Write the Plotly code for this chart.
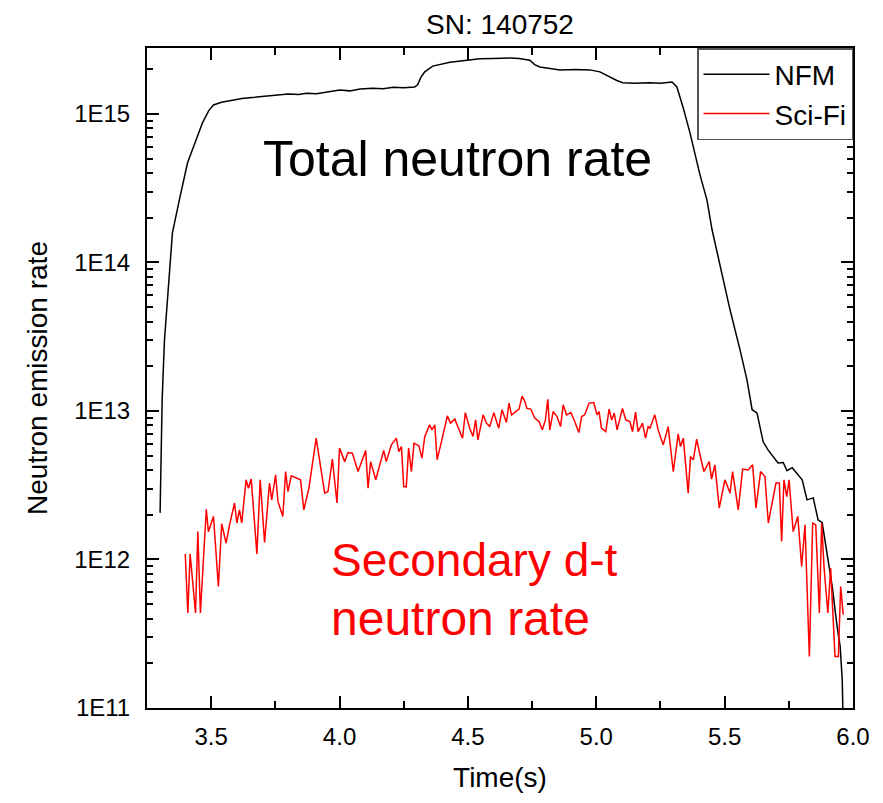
import plotly.graph_objects as go

# ---- data ----
nfm_time = [3.301, 3.309, 3.318, 3.330, 3.349, 3.376, 3.408, 3.440, 3.466, 3.490,
            3.509, 3.540, 3.583, 3.620, 3.660, 3.716, 3.760, 3.800, 3.840, 3.872,
            3.910, 3.950, 4.001, 4.040, 4.080, 4.129, 4.170, 4.210, 4.250, 4.293,
            4.304, 4.318, 4.332, 4.363, 4.400, 4.430, 4.480, 4.546, 4.600, 4.663,
            4.700, 4.741, 4.760, 4.780, 4.820, 4.858, 4.920, 4.975, 5.014, 5.053,
            5.080, 5.103, 5.150, 5.209, 5.250, 5.295, 5.314, 5.340, 5.365, 5.404,
            5.431, 5.451, 5.482, 5.521, 5.560, 5.587, 5.607, 5.626, 5.650, 5.669,
            5.708, 5.728, 5.743, 5.763, 5.802, 5.821, 5.845, 5.864, 5.880, 5.899,
            5.919, 5.938, 5.950, 5.958, 5.961]
nfm_rate = [2.06e12, 1.19e13, 3.0e13, 5.6e13, 1.58e14, 2.64e14, 4.69e14, 6.6e14, 8.7e14, 1.05e15,
            1.15e15, 1.20e15, 1.24e15, 1.27e15, 1.29e15, 1.32e15, 1.33e15, 1.36e15, 1.35e15, 1.38e15,
            1.37e15, 1.41e15, 1.45e15, 1.43e15, 1.47e15, 1.49e15, 1.48e15, 1.51e15, 1.50e15, 1.52e15,
            1.57e15, 1.78e15, 1.92e15, 2.10e15, 2.18e15, 2.23e15, 2.28e15, 2.35e15, 2.36e15, 2.38e15,
            2.36e15, 2.30e15, 2.15e15, 2.07e15, 2.02e15, 1.98e15, 1.99e15, 1.98e15, 1.92e15, 1.77e15,
            1.68e15, 1.62e15, 1.61e15, 1.62e15, 1.61e15, 1.64e15, 1.52e15, 1.08e15, 7.45e14, 3.89e14,
            2.64e14, 1.66e14, 9.6e13, 4.8e13, 2.58e13, 1.62e13, 1.02e13, 9.7e12, 6.2e12, 5.47e12,
            4.47e12, 4.5e12, 3.96e12, 4.15e12, 3.44e12, 2.52e12, 2.6e12, 1.85e12, 1.77e12, 1.08e12,
            6.6e11, 3.54e11, 2.6e11, 1.55e11, 9.0e10]

scifi_time = [3.399, 3.409, 3.418, 3.439, 3.448, 3.458, 3.481, 3.489, 3.509, 3.528,
              3.541, 3.558, 3.571, 3.591, 3.600, 3.610, 3.619, 3.636, 3.645, 3.656,
              3.678, 3.691, 3.708, 3.727, 3.736, 3.751, 3.760, 3.779, 3.790, 3.799,
              3.812, 3.848, 3.861, 3.881, 3.909, 3.942, 3.955, 3.972, 3.990, 4.000,
              4.020, 4.033, 4.050, 4.072, 4.102, 4.111, 4.121, 4.141, 4.172, 4.182,
              4.202, 4.221, 4.231, 4.241, 4.250, 4.260, 4.269, 4.280, 4.290, 4.309,
              4.321, 4.332, 4.351, 4.360, 4.371, 4.380, 4.397, 4.420, 4.432, 4.449,
              4.479, 4.490, 4.507, 4.520, 4.530, 4.539, 4.559, 4.572, 4.585, 4.601,
              4.620, 4.633, 4.650, 4.660, 4.670, 4.686, 4.699, 4.711, 4.721, 4.730,
              4.745, 4.760, 4.777, 4.790, 4.802, 4.811, 4.819, 4.832, 4.847, 4.861,
              4.871, 4.884, 4.901, 4.916, 4.932, 4.943, 4.955, 4.972, 4.990, 5.003,
              5.011, 5.020, 5.037, 5.050, 5.060, 5.070, 5.081, 5.102, 5.115, 5.131,
              5.141, 5.153, 5.163, 5.180, 5.192, 5.202, 5.209, 5.228, 5.241, 5.261,
              5.280, 5.300, 5.319, 5.328, 5.339, 5.358, 5.367, 5.378, 5.391, 5.404,
              5.419, 5.440, 5.449, 5.462, 5.479, 5.501, 5.521, 5.531, 5.553, 5.570,
              5.592, 5.609, 5.622, 5.640, 5.657, 5.670, 5.700, 5.713, 5.722, 5.731,
              5.742, 5.751, 5.767, 5.785, 5.800, 5.813, 5.830, 5.843, 5.855, 5.869,
              5.878, 5.887, 5.902, 5.913, 5.930, 5.943, 5.952, 5.962]
scifi_rate = [1.09e12, 4.36e11, 1.09e12, 4.36e11, 1.54e12, 4.36e11, 2.18e12, 1.54e12, 1.95e12, 6.58e11,
              1.74e12, 1.29e12, 1.69e12, 2.40e12, 1.76e12, 2.16e12, 1.76e12, 3.44e12, 3.02e12, 3.48e12,
              1.09e12, 3.44e12, 1.30e12, 3.27e12, 2.52e12, 3.72e12, 2.46e12, 1.95e12, 3.91e12, 2.87e12,
              3.66e12, 3.44e12, 2.16e12, 3.05e12, 6.56e12, 2.80e12, 2.87e12, 4.74e12, 2.40e12, 5.62e12,
              4.56e12, 5.25e12, 5.20e12, 3.91e12, 5.42e12, 3.02e12, 4.56e12, 3.44e12, 5.42e12, 4.56e12,
              5.91e12, 6.56e12, 5.33e12, 5.76e12, 3.10e12, 3.08e12, 5.62e12, 3.91e12, 6.07e12, 5.82e12,
              4.81e12, 6.73e12, 8.06e12, 7.46e12, 8.06e12, 4.69e12, 6.22e12, 9.27e12, 8.28e12, 8.81e12,
              6.56e12, 9.75e12, 7.66e12, 6.73e12, 8.71e12, 6.39e12, 9.42e12, 8.28e12, 7.85e12, 9.75e12,
              7.66e12, 1.02e13, 8.36e12, 1.13e13, 9.42e12, 9.91e12, 1.03e13, 1.26e13, 1.17e13, 1.04e13,
              1.03e13, 8.95e12, 8.49e12, 7.46e12, 8.71e12, 1.20e13, 7.46e12, 9.91e12, 9.17e12, 7.85e12,
              1.10e13, 9.42e12, 9.75e12, 8.49e12, 7.16e12, 9.17e12, 9.42e12, 1.13e13, 1.14e13, 9.42e12,
              9.91e12, 7.66e12, 7.27e12, 1.03e13, 8.71e12, 9.67e12, 7.46e12, 1.04e13, 8.71e12, 8.49e12,
              7.27e12, 9.82e12, 7.27e12, 8.28e12, 6.56e12, 7.85e12, 7.66e12, 9.42e12, 7.46e12, 5.91e12,
              7.85e12, 3.91e12, 7.01e12, 5.76e12, 6.56e12, 2.80e12, 4.93e12, 4.69e12, 6.46e12, 5.07e12,
              3.91e12, 4.56e12, 3.48e12, 4.34e12, 2.22e12, 3.44e12, 2.80e12, 3.91e12, 2.16e12, 4.06e12,
              4.01e12, 4.34e12, 2.22e12, 3.91e12, 3.62e12, 1.76e12, 3.27e12, 3.27e12, 1.32e12, 3.44e12,
              2.65e12, 3.44e12, 1.54e12, 1.95e12, 8.97e11, 1.71e12, 2.22e11, 1.76e12, 1.71e12, 4.36e11,
              1.76e12, 8.97e11, 4.36e11, 8.75e11, 2.22e11, 2.22e11, 6.58e11, 4.25e11]

x_major = [3.5, 4.0, 4.5, 5.0, 5.5, 6.0]
x_major_text = ["3.5", "4.0", "4.5", "5.0", "5.5", "6.0"]
x_minor = [3.25, 3.75, 4.25, 4.75, 5.25, 5.75]
y_major = [1e11, 1e12, 1e13, 1e14, 1e15]
y_major_text = ["1E11", "1E12", "1E13", "1E14", "1E15"]
y_minor = [m * 10 ** e for e in range(11, 16) for m in range(2, 10)]

X_RANGE = [3.25, 6.0]
Y_RANGE = [11, 15.444]
FONT = "Liberation Sans, Arial, sans-serif"

fig = go.Figure()
fig.add_trace(go.Scatter(x=nfm_time, y=nfm_rate, mode="lines", name="NFM",
                         line=dict(color="black", width=1.5)))
fig.add_trace(go.Scatter(x=scifi_time, y=scifi_rate, mode="lines", name="Sci-Fi",
                         line=dict(color="#ff0000", width=1.5)))
# empty trace that carries the overlay axes used for the minor ticks
fig.add_trace(go.Scatter(x=[], y=[], xaxis="x2", yaxis="y2", showlegend=False,
                         hoverinfo="skip"))

fig.update_layout(
    width=883, height=803,
    margin=dict(l=147, r=30, t=48, b=95),
    plot_bgcolor="white", paper_bgcolor="white",
    font=dict(family=FONT, color="black", size=24),
    title=dict(text="SN: 140752", x=0.5, xref="paper", xanchor="center",
               y=0.970, yref="container", yanchor="middle",
               font=dict(size=28, family=FONT, color="black")),
    showlegend=True,
    legend=dict(x=1, y=1, xanchor="right", yanchor="top",
                bgcolor="white", bordercolor="#555555", borderwidth=1.5,
                font=dict(size=28, family=FONT, color="black"),
                itemwidth=66, tracegroupgap=0),
    annotations=[
        dict(text="Total neutron rate", xref="paper", yref="paper",
             x=0.161, y=0.832, xanchor="left", yanchor="middle", showarrow=False,
             font=dict(size=50, family=FONT, color="black")),
        dict(text="Secondary d-t", xref="paper", yref="paper",
             x=0.258, y=0.2247, xanchor="left", yanchor="middle", showarrow=False,
             font=dict(size=46, family=FONT, color="#ff0000")),
        dict(text="neutron rate", xref="paper", yref="paper",
             x=0.258, y=0.1350, xanchor="left", yanchor="middle", showarrow=False,
             font=dict(size=48, family=FONT, color="#ff0000")),
    ],
    xaxis2=dict(overlaying="x", anchor="y", range=X_RANGE, showgrid=False, zeroline=False,
                showline=True, linecolor="black", linewidth=2, mirror="ticks",
                tickmode="array", tickvals=x_minor, ticks="inside", ticklen=7,
                tickwidth=2, tickcolor="black", showticklabels=False),
    yaxis2=dict(overlaying="y", anchor="x", type="log", range=Y_RANGE, showgrid=False,
                zeroline=False, showline=True, linecolor="black", linewidth=2, mirror="ticks",
                tickmode="array", tickvals=y_minor, ticks="inside", ticklen=6,
                tickwidth=1.5, tickcolor="black", showticklabels=False),
)

fig.update_xaxes(
    selector=dict(anchor="y"), overwrite=False,
)
fig.update_layout(
    xaxis=dict(
        range=X_RANGE, showgrid=False, zeroline=False,
        showline=True, linecolor="black", linewidth=2, mirror="ticks",
        tickmode="array", tickvals=x_major, ticktext=x_major_text,
        ticks="inside", ticklen=12, tickwidth=2, tickcolor="black",
        tickfont=dict(size=24, family=FONT), ticklabelstandoff=6,
        title=dict(text="Time(s)", font=dict(size=28, family=FONT), standoff=19),
    ),
    yaxis=dict(
        type="log", range=Y_RANGE, showgrid=False, zeroline=False,
        showline=True, linecolor="black", linewidth=2, mirror="ticks",
        tickmode="array", tickvals=y_major, ticktext=y_major_text,
        ticks="inside", ticklen=12, tickwidth=2, tickcolor="black",
        tickfont=dict(size=24, family=FONT), ticklabelstandoff=10,
        title=dict(text="Neutron emission rate", font=dict(size=28, family=FONT), standoff=18),
    ),
)

fig.write_html("out.html")
